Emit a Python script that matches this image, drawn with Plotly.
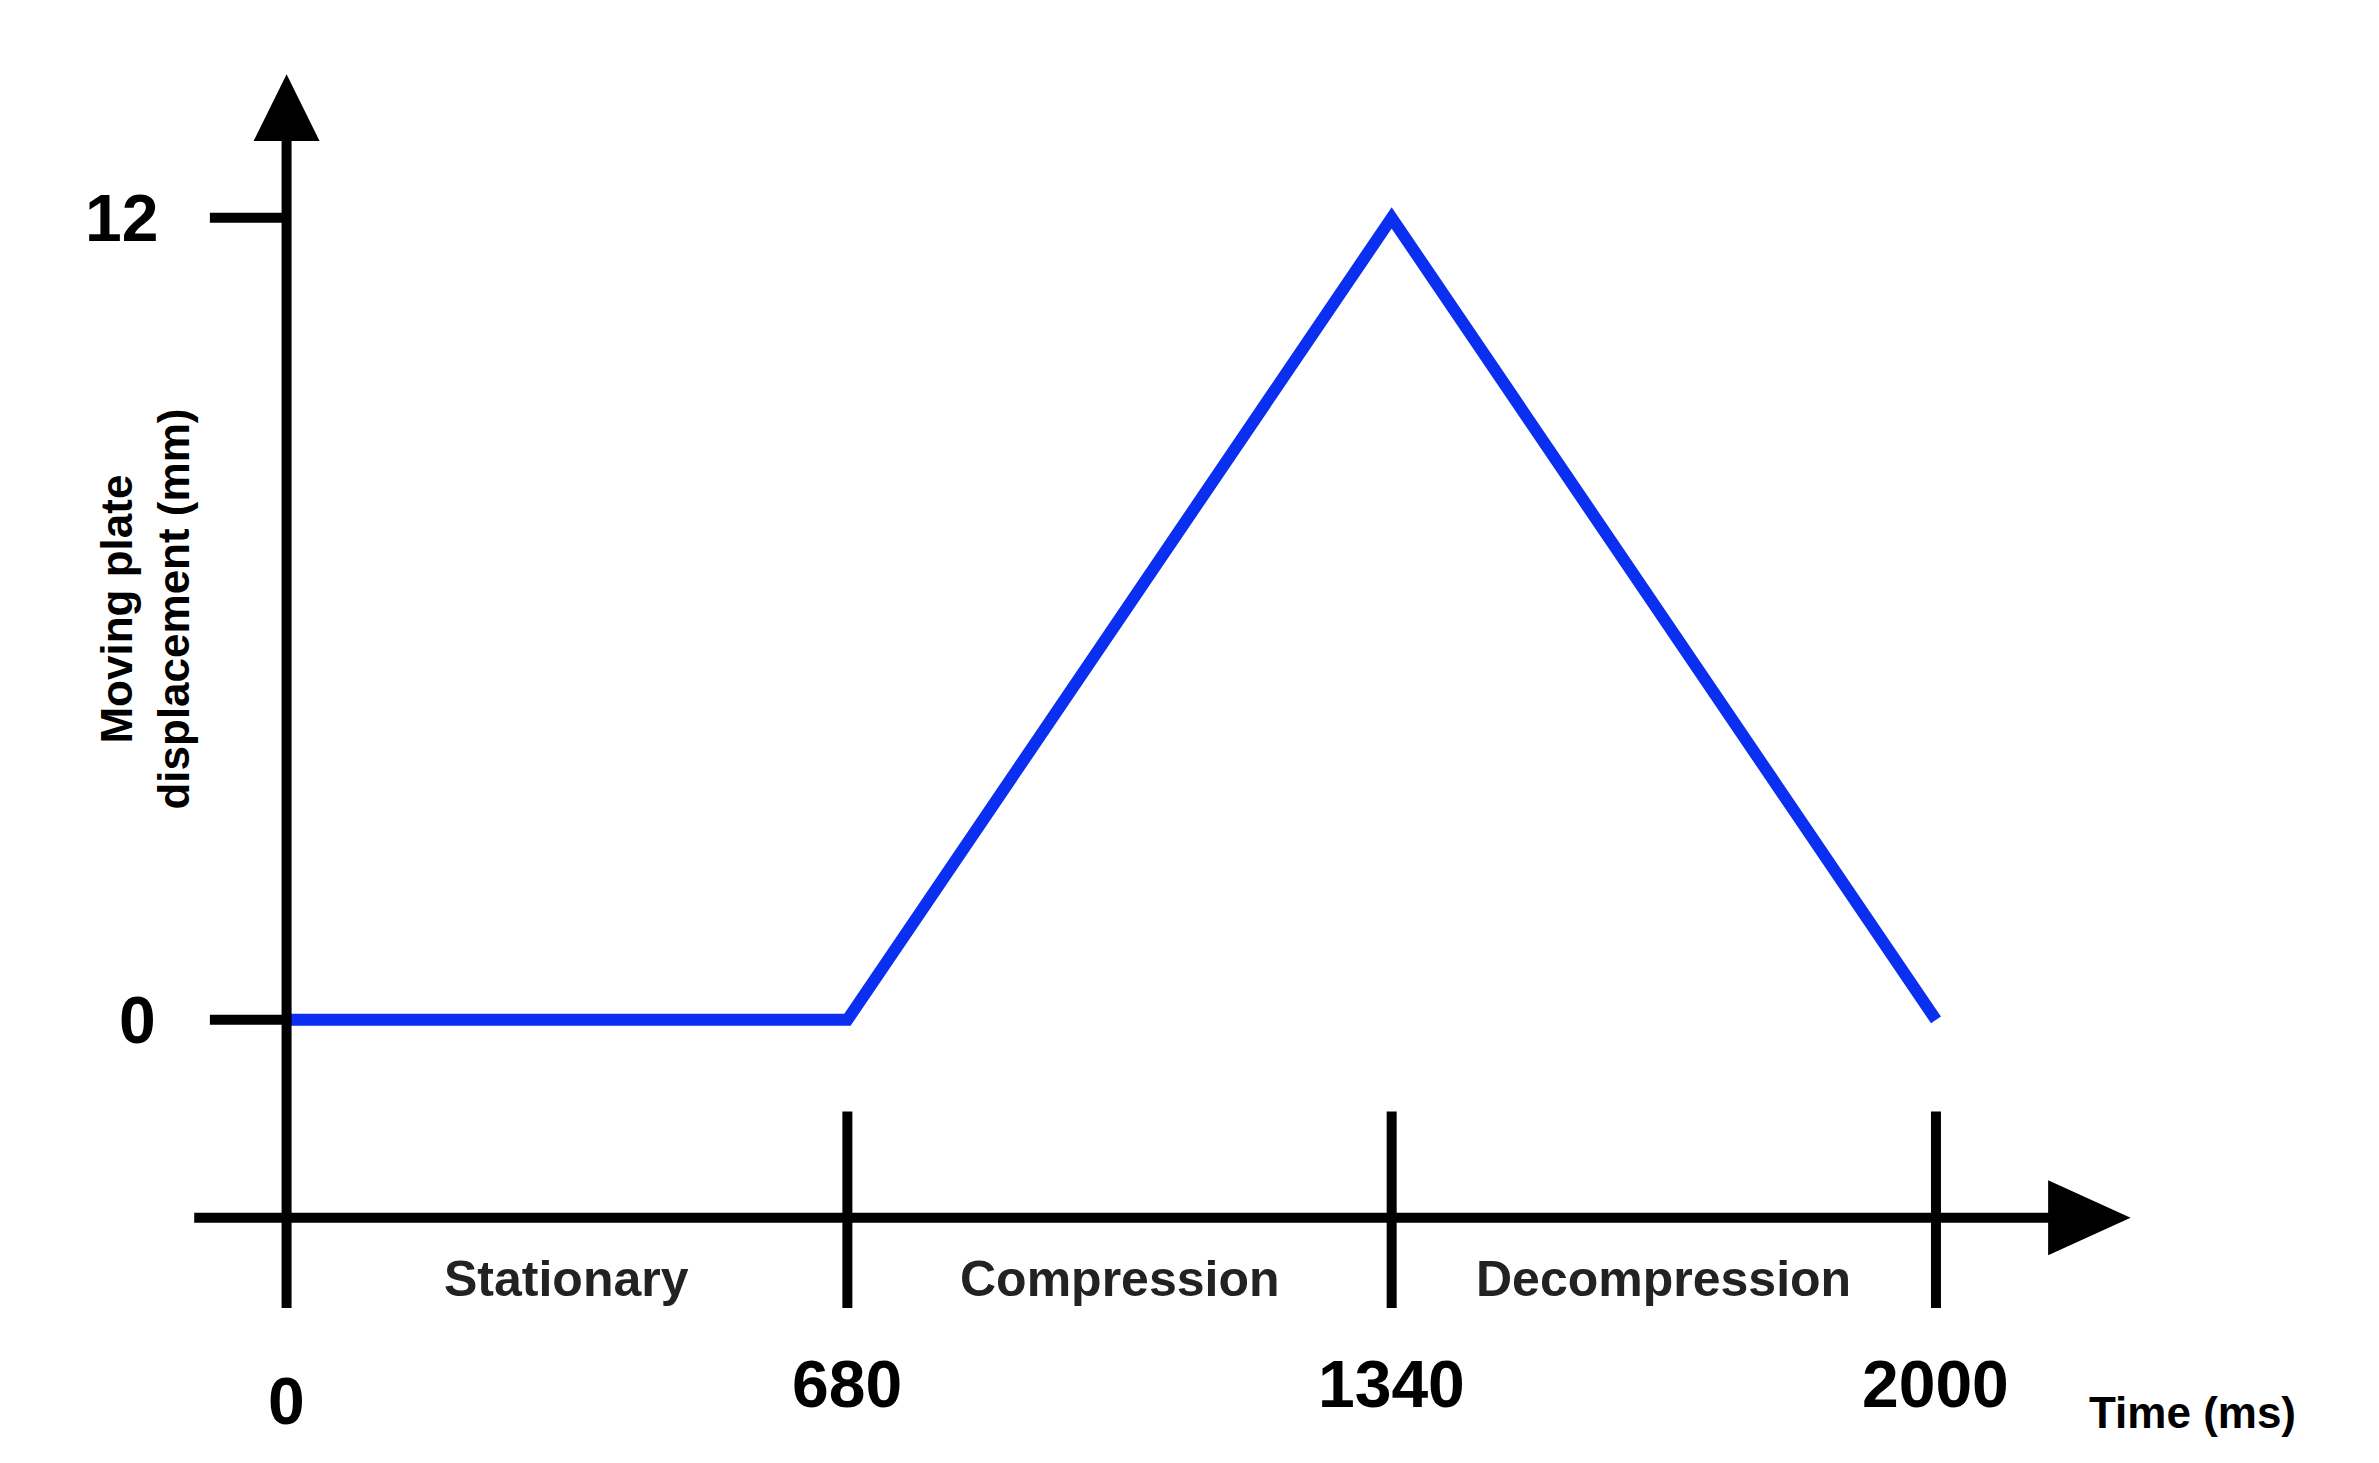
import plotly.graph_objects as go

time_ms = [0, 680, 1340, 2000]
displacement_mm = [0, 0, 12, 0]
phase_names = ["Stationary", "Compression", "Decompression"]
phase_bounds = [0, 680, 1340, 2000]
y_ticks = [0, 12]
x_tick_labels = ["0", "680", "1340", "2000"]

W, H = 2379, 1463
XR = [-337.8, 2546.9]
YR = [-6.75, 15.14]
BLK = "black"
F = "Liberation Sans, Arial, sans-serif"

fig = go.Figure()
fig.add_trace(go.Scatter(x=time_ms, y=displacement_mm, mode="lines",
                         line=dict(color="#0a2ff0", width=12), hoverinfo="skip"))

shapes = []
# axes
shapes.append(dict(type="line", x0=0, x1=0, y0=-4.31, y1=13.3, line=dict(color=BLK, width=10)))
shapes.append(dict(type="path", path="M -40 13.15 L 40 13.15 L 0 14.15 Z", fillcolor=BLK, line=dict(width=0)))
shapes.append(dict(type="line", x0=-112, x1=2150, y0=-2.96, y1=-2.96, line=dict(color=BLK, width=10)))
shapes.append(dict(type="path", path="M 2136 -2.4 L 2136 -3.52 L 2236 -2.96 Z", fillcolor=BLK, line=dict(width=0)))
for yv in y_ticks:
    shapes.append(dict(type="line", x0=-93, x1=0, y0=yv, y1=yv, line=dict(color=BLK, width=10)))
for xb in phase_bounds[1:]:
    shapes.append(dict(type="line", x0=xb, x1=xb, y0=-1.37, y1=-4.31, line=dict(color=BLK, width=10)))

ann = []
for xb, lab in zip(phase_bounds, x_tick_labels):
    ann.append(dict(x=xb, y=-5.7 if xb == 0 else -5.45, text=f"<b>{lab}</b>", showarrow=False,
                    font=dict(family=F, size=66, color=BLK)))
ytx = {0: -181, 12: -200}
for yv in y_ticks:
    ann.append(dict(x=ytx[yv], y=yv, text=f"<b>{yv}</b>", showarrow=False,
                    font=dict(family=F, size=66, color=BLK)))
for i, name in enumerate(phase_names):
    ann.append(dict(x=(phase_bounds[i] + phase_bounds[i + 1]) / 2, y=-3.87, text=f"<b>{name}</b>",
                    showarrow=False, font=dict(family=F, size=50, color="#222")))
ann.append(dict(x=2311, y=-5.87, text="<b>Time (ms)</b>", showarrow=False,
                font=dict(family=F, size=44, color=BLK)))
ann.append(dict(x=-172, y=6.15, text="<b>Moving plate<br>displacement (mm)</b>", showarrow=False,
                textangle=-90, font=dict(family=F, size=44, color=BLK)))

fig.update_layout(width=W, height=H, margin=dict(l=0, r=0, t=0, b=0),
                  paper_bgcolor="white", plot_bgcolor="white", showlegend=False,
                  shapes=shapes, annotations=ann,
                  xaxis=dict(range=XR, visible=False, fixedrange=True),
                  yaxis=dict(range=YR, visible=False, fixedrange=True))
fig.write_html("out.html")
